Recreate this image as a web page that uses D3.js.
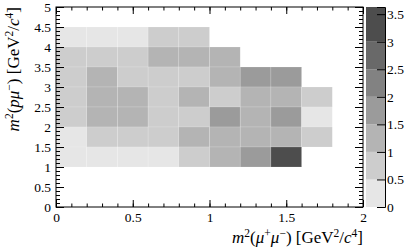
<!DOCTYPE html>
<html>
<head>
<meta charset="utf-8">
<script src="https://cdn.jsdelivr.net/npm/d3@7/dist/d3.min.js"></script>
<style>
  body { margin: 0; background: #fff; }
  svg text { font-family: "Liberation Serif", "DejaVu Serif", serif; }
  .tick text { font-size: 13.5px; fill: #000; }
</style>
</head>
<body>
<svg id="viz" width="408" height="250"></svg>
<script>
// bin lower edges
var xBins = [0, 0.2, 0.4, 0.6, 0.8, 1.0, 1.2, 1.4, 1.6]
var yBins = [4.0, 3.5, 3.0, 2.5, 2.0, 1.5, 1.0]
// content per bin, one row per yBins entry (0 = empty bin)
var row40 = [0.30, 0.35, 0.30, 0.80, 0.80, 0, 0, 0, 0]
var row35 = [0.75, 0.80, 0.80, 1.20, 1.25, 1.20, 0, 0, 0]
var row30 = [0.80, 1.20, 0.75, 0.70, 0.70, 1.20, 1.70, 1.70, 0]
var row25 = [0.80, 1.25, 1.25, 0.70, 1.20, 0.80, 1.25, 1.25, 0.80]
var row20 = [0.80, 1.25, 1.20, 0.75, 0.75, 1.70, 1.20, 1.70, 0.30]
var row15 = [0.35, 0.80, 0.80, 0.80, 1.20, 1.25, 1.20, 1.25, 0.75]
var row10 = [0.30, 0.30, 0.30, 0.30, 0.80, 1.25, 1.70, 3.63, 0]
var counts = [row40, row35, row30, row25, row20, row15, row10]

var zMax = 3.63
var zLevels = [0.5, 1, 1.5, 2, 2.5, 3]
var grays = ["#e6e6e6", "#cdcdcd", "#b4b4b4", "#9b9b9b", "#828282", "#696969", "#4d4d4d"]

var pL = 56, pR = 363, pT = 7, pB = 207

var svg = d3.select("svg")

var x = d3.scaleLinear().domain([0, 2]).range([pL, pR])
var y = d3.scaleLinear().domain([0, 5]).range([pB, pT])
var z = d3.scaleLinear().domain([0, zMax]).range([pB, pT])
var color = d3.scaleThreshold().domain(zLevels).range(grays)

//flatten the grid
var cells = []
counts.forEach(function (row, j) {
  row.forEach(function (v, i) {
    if (v > 0) cells.push({ x0: xBins[i], y0: yBins[j], v: v })
  })
})

svg.append("g").selectAll("rect")
  .data(cells)
  .enter()
  .append("rect")
  .attr("x", function (d) { return x(d.x0) })
  .attr("y", function (d) { return y(d.y0 + 0.5) })
  .attr("width", function (d) { return x(d.x0 + 0.2) - x(d.x0) })
  .attr("height", function (d) { return y(d.y0) - y(d.y0 + 0.5) })
  .attr("fill", function (d) { return color(d.v) })
  .attr("stroke", "#fff")
  .attr("stroke-opacity", 0.25)
  .attr("stroke-width", 0.6)

//axes: major + minor ticks, pointing inside
function ticks(axisFn, scale, major, minor, len, fmt, tx, ty) {
  svg.append("g")
    .attr("transform", "translate(" + tx + "," + ty + ")")
    .call(axisFn(scale).tickValues(minor).tickSize(-len / 2).tickFormat(""))
    .call(function (g) { g.select(".domain").remove() })
  var g = svg.append("g")
    .attr("transform", "translate(" + tx + "," + ty + ")")
    .call(axisFn(scale).tickValues(major).tickSize(-len).tickPadding(5).tickFormat(fmt))
  g.select(".domain").remove()
  return g
}

var xMajor = d3.range(0, 2.001, 0.5)
var xMinor = d3.range(0, 2.001, 0.1)
var yMajor = d3.range(0, 5.001, 0.5)
var yMinor = d3.range(0, 5.001, 0.1)
var fmt = d3.format("~g")
var none = function () { return "" }

ticks(d3.axisBottom, x, xMajor, xMinor, 7, fmt, 0, pB)
ticks(d3.axisTop, x, xMajor, xMinor, 7, none, 0, pT)
ticks(d3.axisLeft, y, yMajor, yMinor, 8, fmt, pL, 0)
ticks(d3.axisRight, y, yMajor, yMinor, 8, none, pR, 0)

svg.selectAll(".tick line").attr("stroke", "#000")

svg.append("rect")
  .attr("x", pL).attr("y", pT)
  .attr("width", pR - pL).attr("height", pB - pT)
  .attr("fill", "none").attr("stroke", "#000").attr("stroke-width", 1)

//palette
var barL = 366, barR = 385
var bands = [0].concat(zLevels).map(function (lo, i) {
  return { lo: lo, hi: i < zLevels.length ? zLevels[i] : zMax }
})
svg.append("g").selectAll("rect")
  .data(bands)
  .enter()
  .append("rect")
  .attr("x", barL)
  .attr("width", barR - barL)
  .attr("y", function (d) { return z(d.hi) })
  .attr("height", function (d) { return z(d.lo) - z(d.hi) })
  .attr("fill", function (d) { return color(d.lo) })

var zAxis = svg.append("g")
  .attr("transform", "translate(" + barR + ",0)")
  .call(d3.axisRight(z).tickValues(d3.range(0, 3.51, 0.5)).tickSize(-8).tickPadding(2).tickFormat(fmt))
zAxis.select(".domain").attr("stroke", "#000")
zAxis.selectAll(".tick line").attr("stroke", "#000")

//axis titles
function title(t, parts) {
  parts.forEach(function (p) {
    var s = t.append("tspan").text(p[0])
    if (p[1] == "i") s.attr("font-style", "italic")
    if (p[1] == "s") s.attr("baseline-shift", "super").attr("font-size", "11.5px")
  })
}

var xt = svg.append("text")
  .attr("x", pR).attr("y", 243)
  .attr("text-anchor", "end")
  .attr("font-size", "17px")
title(xt, [["m", "i"], ["2", "s"], ["("], ["\u03bc", "i"], ["+", "s"], ["\u03bc", "i"], ["\u2212", "s"],
  [") [GeV"], ["2", "s"], ["/"], ["c", "i"], ["4", "s"], ["]"]])

var yt = svg.append("text")
  .attr("transform", "translate(19," + pT + ") rotate(-90)")
  .attr("text-anchor", "end")
  .attr("font-size", "17px")
title(yt, [["m", "i"], ["2", "s"], ["("], ["p\u03bc", "i"], ["\u2212", "s"],
  [") [GeV"], ["2", "s"], ["/"], ["c", "i"], ["4", "s"], ["]"]])
</script>
</body>
</html>
